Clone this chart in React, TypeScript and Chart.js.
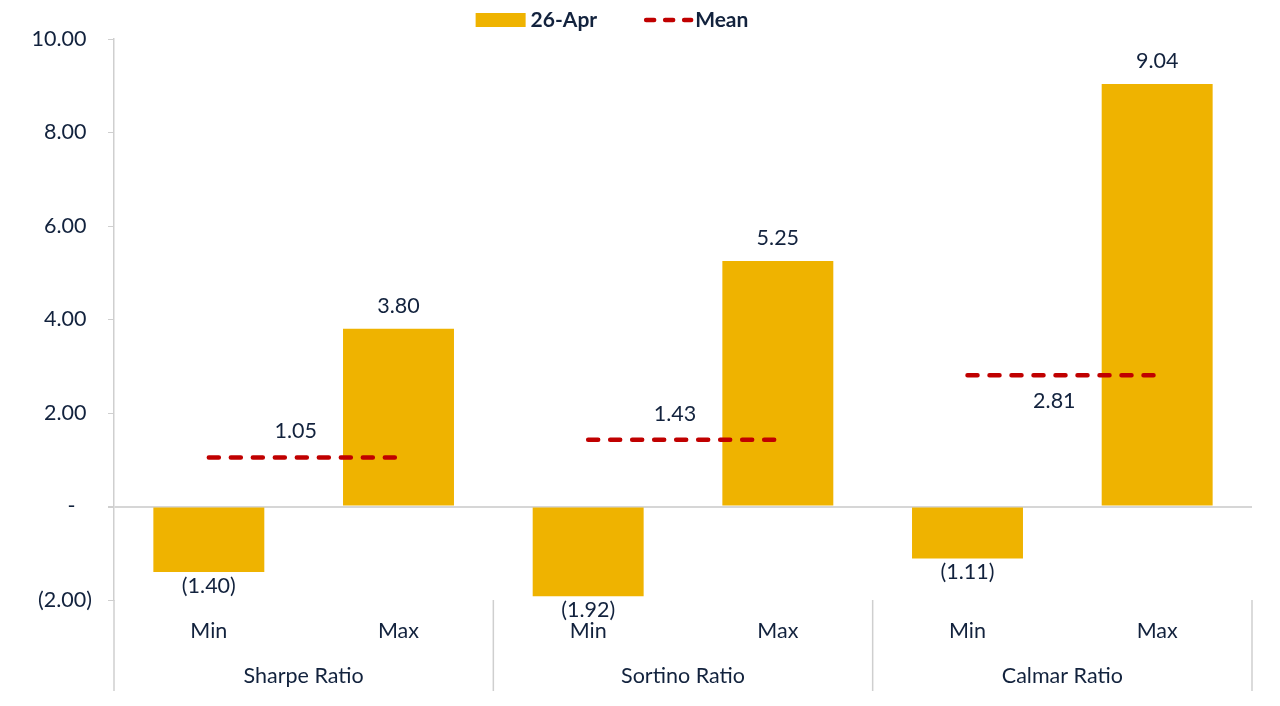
import React, { useEffect, useRef } from "react";
import { Chart, registerables } from "chart.js";

Chart.register(...registerables);

const CATEGORIES = ["Min", "Max", "Min", "Max", "Min", "Max"];
const GROUPS = ["Sharpe Ratio", "Sortino Ratio", "Calmar Ratio"];
const VALUES_26APR = [-1.4, 3.8, -1.92, 5.25, -1.11, 9.04];
const MEAN_VALUES = [1.05, 1.05, 1.43, 1.43, 2.81, 2.81];
const Y_TICKS = [-2, 0, 2, 4, 6, 8, 10];
const SERIES_BAR = "26-Apr";
const SERIES_MEAN = "Mean";

const BAR_COLOR = "#EFB300";
const MEAN_COLOR = "#C00000";
const TEXT_COLOR = "#12223D";
const AXIS_COLOR = "#CFCFCF";
const FONT = "Lato, 'Open Sans', sans-serif";
const FONT_SIZE = 21.5;
const LEGEND_FONT_SIZE = 21;
const MEAN_LABEL_BELOW = [false, false, true];

const fmtValue = (v: number) => (v < 0 ? `(${Math.abs(v).toFixed(2)})` : v.toFixed(2));

const fmtTick = (v: number) => {
  if (v === 0) return "-   ";
  if (v < 0) return `(${Math.abs(v).toFixed(2)})`;
  return v.toFixed(2) + " ";
};

const labelsPlugin = {
  id: "customLabels",
  afterDatasetsDraw(chart: any) {
    const ctx = chart.ctx;
    ctx.save();
    ctx.font = `${FONT_SIZE}px ${FONT}`;
    ctx.fillStyle = TEXT_COLOR;
    ctx.textAlign = "center";
    ctx.textBaseline = "middle";
    const barMeta = chart.getDatasetMeta(1);
    barMeta.data.forEach((el: any, i: number) => {
      const v = VALUES_26APR[i];
      const { x, y } = el.getProps(["x", "y"], true);
      const ty = v >= 0 ? y - 23 : y + 14;
      ctx.fillText(fmtValue(v), x, ty);
    });
    const lineMeta = chart.getDatasetMeta(0);
    GROUPS.forEach((_g, gi) => {
      const p0 = lineMeta.data[gi * 2];
      const p1 = lineMeta.data[gi * 2 + 1];
      if (!p0 || !p1) return;
      const x = (p0.x + p1.x) / 2 - 8;
      const y = MEAN_LABEL_BELOW[gi] ? p0.y + 26 : p0.y - 26;
      ctx.fillText(fmtValue(MEAN_VALUES[gi * 2]), x, y);
    });
    ctx.restore();
  },
};

const separatorsPlugin = {
  id: "separators",
  afterDraw(chart: any) {
    const ctx = chart.ctx;
    const { chartArea } = chart;
    const xs = chart.scales.x;
    const top = chartArea.bottom;
    const bottom = chartArea.bottom + 91;
    const positions: number[] = [chartArea.left];
    for (let g = 1; g < GROUPS.length; g++) {
      const a = xs.getPixelForValue(g * 2 - 1);
      const b = xs.getPixelForValue(g * 2);
      positions.push((a + b) / 2);
    }
    positions.push(chartArea.right);
    ctx.save();
    ctx.strokeStyle = AXIS_COLOR;
    ctx.lineWidth = 1.5;
    positions.forEach((px) => {
      ctx.beginPath();
      ctx.moveTo(px, top);
      ctx.lineTo(px, bottom);
      ctx.stroke();
    });
    ctx.restore();
  },
};

const legendPlugin = {
  id: "customLegend",
  afterDraw(chart: any) {
    const ctx = chart.ctx;
    ctx.save();
    ctx.font = `bold ${LEGEND_FONT_SIZE}px ${FONT}`;
    ctx.textBaseline = "middle";
    ctx.textAlign = "left";
    const markerW = 50;
    const gapText = 5;
    const gapItems = 46;
    const w1 = ctx.measureText(SERIES_BAR).width;
    const w2 = ctx.measureText(SERIES_MEAN).width;
    const total = markerW + gapText + w1 + gapItems + markerW + 2 + w2;
    const cx = 612;
    const cy = 20;
    let x = cx - total / 2;
    ctx.fillStyle = BAR_COLOR;
    ctx.fillRect(x, cy - 7, markerW, 14);
    x += markerW + gapText;
    ctx.fillStyle = TEXT_COLOR;
    ctx.fillText(SERIES_BAR, x, cy);
    x += w1 + gapItems;
    ctx.strokeStyle = MEAN_COLOR;
    ctx.lineWidth = 4.5;
    ctx.lineCap = "round";
    ctx.setLineDash([8, 11]);
    ctx.beginPath();
    ctx.moveTo(x + 3, cy);
    ctx.lineTo(x + markerW - 2, cy);
    ctx.stroke();
    ctx.setLineDash([]);
    x += markerW + 2;
    ctx.fillStyle = TEXT_COLOR;
    ctx.fillText(SERIES_MEAN, x, cy);
    ctx.restore();
  },
};

export default function App() {
  const ref = useRef<HTMLCanvasElement | null>(null);

  useEffect(() => {
    if (!ref.current) return;
    const chart = new Chart(ref.current, {
      type: "bar",
      data: {
        labels: CATEGORIES,
        datasets: [
          {
            type: "line",
            label: SERIES_MEAN,
            data: MEAN_VALUES,
            borderColor: MEAN_COLOR,
            borderWidth: 4.5,
            borderDash: [10, 12],
            borderCapStyle: "round",
            pointRadius: 0,
            pointHoverRadius: 0,
            fill: false,
            tension: 0,
            order: 0,
            segment: {
              borderColor: (c: any) => (c.p0DataIndex % 2 === 1 ? "rgba(0,0,0,0)" : MEAN_COLOR),
            },
          } as any,
          {
            type: "bar",
            label: SERIES_BAR,
            data: VALUES_26APR,
            backgroundColor: BAR_COLOR,
            borderWidth: 0,
            categoryPercentage: 1,
            barPercentage: 0.585,
            order: 1,
          },
        ],
      },
      options: {
        animation: false,
        responsive: false,
        layout: { padding: { top: 39, right: 28, left: 0, bottom: 15 } },
        plugins: {
          legend: { display: false },
          tooltip: { enabled: false },
        },
        scales: {
          x: {
            type: "category",
            offset: true,
            grid: { display: false, drawTicks: false },
            border: { display: false },
            ticks: {
              padding: 18,
              color: TEXT_COLOR,
              font: { family: FONT, size: FONT_SIZE },
              maxRotation: 0,
              autoSkip: false,
            },
            afterFit: (s: any) => {
              s.height = 40;
            },
          },
          x2: {
            type: "category",
            labels: GROUPS,
            offset: true,
            position: "bottom",
            weight: 1,
            grid: { display: false, drawTicks: false },
            border: { display: false },
            ticks: {
              padding: 23,
              color: TEXT_COLOR,
              font: { family: FONT, size: FONT_SIZE },
              maxRotation: 0,
              autoSkip: false,
            },
            afterFit: (s: any) => {
              s.height = 51;
            },
          },
          y: {
            type: "linear",
            min: -2,
            max: 10,
            afterBuildTicks: (s: any) => {
              s.ticks = Y_TICKS.map((v) => ({ value: v }));
            },
            grid: {
              color: (c: any) => (c.tick && c.tick.value === 0 ? "#D6D6D6" : "rgba(0,0,0,0)"),
              lineWidth: (c: any) => (c.tick && c.tick.value === 0 ? 2 : 1),
              tickColor: AXIS_COLOR,
              tickLength: 6,
              drawTicks: true,
            },
            border: { display: true, color: AXIS_COLOR, width: 1.5 },
            ticks: {
              padding: 16,
              color: TEXT_COLOR,
              font: { family: FONT, size: FONT_SIZE },
              callback: (v: any) => fmtTick(Number(v)),
            },
            afterFit: (s: any) => {
              s.width = 114;
            },
          },
        },
      },
      plugins: [labelsPlugin, separatorsPlugin, legendPlugin],
    });
    return () => chart.destroy();
  }, []);

  return (
    <div style={{ position: "fixed", left: 0, top: 0, width: 1280, height: 706, background: "#fff" }}>
      <canvas ref={ref} width={1280} height={706} style={{ display: "block" }} />
    </div>
  );
}
